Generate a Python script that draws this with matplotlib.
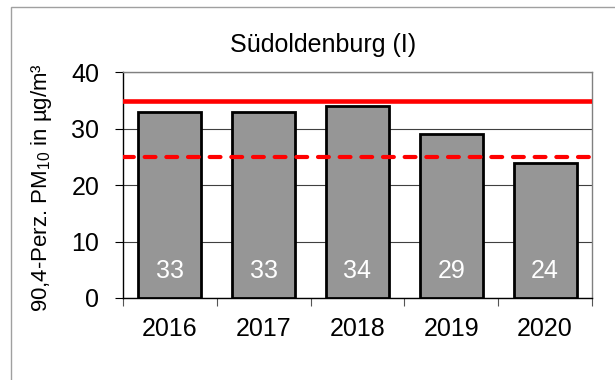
import numpy as np
import matplotlib
matplotlib.use("Agg")
import matplotlib.pyplot as plt
from matplotlib.patches import Rectangle

plt.rcParams['font.family'] = ['Liberation Sans', 'DejaVu Sans']
plt.rcParams['mathtext.fontset'] = 'custom'
plt.rcParams['mathtext.rm'] = 'Liberation Sans'
plt.rcParams['mathtext.default'] = 'regular'

# Daten: 90,4-Perzentil PM10, Station Südoldenburg
jahre = ['2016', '2017', '2018', '2019', '2020']
werte = [33, 33, 34, 29, 24]
grenzwert = 35      # Grenzwert
zielwert = 25       # Vergleichswert (gestrichelt)

fig = plt.figure(figsize=(6.15, 3.8), dpi=100)
ax = fig.add_axes([0.2, 0.2158, 0.7626, 0.5939])

x = np.arange(len(jahre))
ax.bar(x, werte, width=0.67, color='#969696', edgecolor='black', linewidth=2, zorder=3)

for xi, w in zip(x, werte):
    ax.text(xi, 4.8, str(w), color='white', fontsize=18, ha='center', va='center', zorder=4)

ax.axhline(grenzwert, color='#ff0000', linewidth=3.3, zorder=5)
ax.axhline(zielwert, color='#ff0000', linewidth=3.0, linestyle=(0, (2.6, 2.6)),
           dash_capstyle='round', zorder=5)

ax.set_xlim(-0.5, len(jahre) - 0.5)
ax.set_ylim(0, 40)
ax.set_yticks([0, 10, 20, 30, 40])
ax.yaxis.grid(True, color='#404040', linewidth=0.8, zorder=0)
ax.set_axisbelow(True)

ax.set_xticks(x)
ax.set_xticklabels(jahre)
ax.set_xticks(np.arange(len(jahre) + 1) - 0.5, minor=True)
ax.tick_params(axis='x', which='major', length=0, pad=14, labelsize=18)
ax.tick_params(axis='x', which='minor', length=6, width=0.8, color='#555555')
ax.tick_params(axis='y', length=6, width=0.8, pad=11, labelsize=18)

for s in ['left', 'bottom']:
    ax.spines[s].set_color('black')
    ax.spines[s].set_linewidth(1.0)
for s in ['top', 'right']:
    ax.spines[s].set_color('#808080')
    ax.spines[s].set_linewidth(1.0)

fig.text(323 / 615, 1 - 45 / 380, 'Südoldenburg (I)', fontsize=18, ha='center', va='center')
fig.text(42 / 615, 1 - 188 / 380, '90,4-Perz. PM$_{10}$ in µg/m³', fontsize=16,
         rotation=90, ha='center', va='center')

# heller Rahmen um das Diagramm
fig.patches.append(Rectangle((11 / 615, -0.1), 1.2, 1.1 - 7 / 380, transform=fig.transFigure,
                             fill=False, edgecolor='#a0a0a0', linewidth=1.0))

fig.savefig('out.png', dpi=100)
